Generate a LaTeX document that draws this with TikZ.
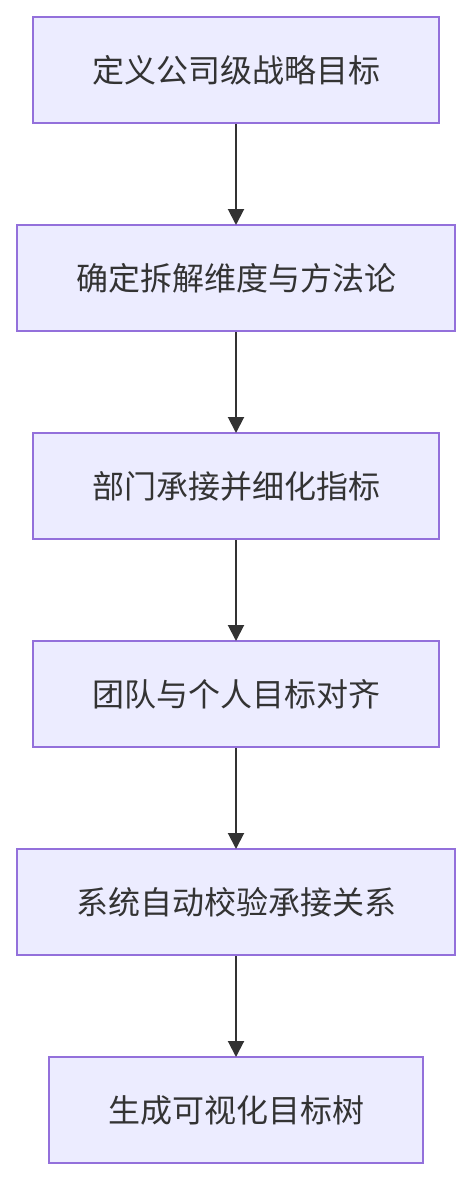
\documentclass[tikz,border=0pt]{standalone}
\usepackage{fontspec}
\setmainfont{Noto Sans CJK SC}
\usetikzlibrary{positioning,arrows.meta}
\definecolor{boxfill}{HTML}{ECECFF}
\definecolor{boxline}{HTML}{9370DB}
\definecolor{ink}{HTML}{333333}
\tikzset{
  stagebox/.style={draw=boxline,fill=boxfill,line width=2pt,minimum height=106pt,
    text=ink,font=\fontsize{32}{38}\selectfont,inner sep=0pt},
  flow/.style={draw=ink,line width=2pt,-{Triangle[length=16pt,width=16pt]},shorten >=-1pt}
}
\begin{document}
\begin{tikzpicture}[node distance=100pt]
\useasboundingbox (0,0) rectangle (472pt,-1180pt);
\node[stagebox,minimum width=406pt] (goal) at (236pt,-70pt) {定义公司级战略目标};
\node[stagebox,minimum width=438pt,below=of goal] (method) {确定拆解维度与方法论};
\node[stagebox,minimum width=406pt,below=of method] (dept) {部门承接并细化指标};
\node[stagebox,minimum width=406pt,below=of dept] (team) {团队与个人目标对齐};
\node[stagebox,minimum width=438pt,below=of team] (check) {系统自动校验承接关系};
\node[stagebox,minimum width=374pt,below=of check] (tree) {生成可视化目标树};
\draw[flow] (goal) -- (method);
\draw[flow] (method) -- (dept);
\draw[flow] (dept) -- (team);
\draw[flow] (team) -- (check);
\draw[flow] (check) -- (tree);
\end{tikzpicture}
\end{document}
